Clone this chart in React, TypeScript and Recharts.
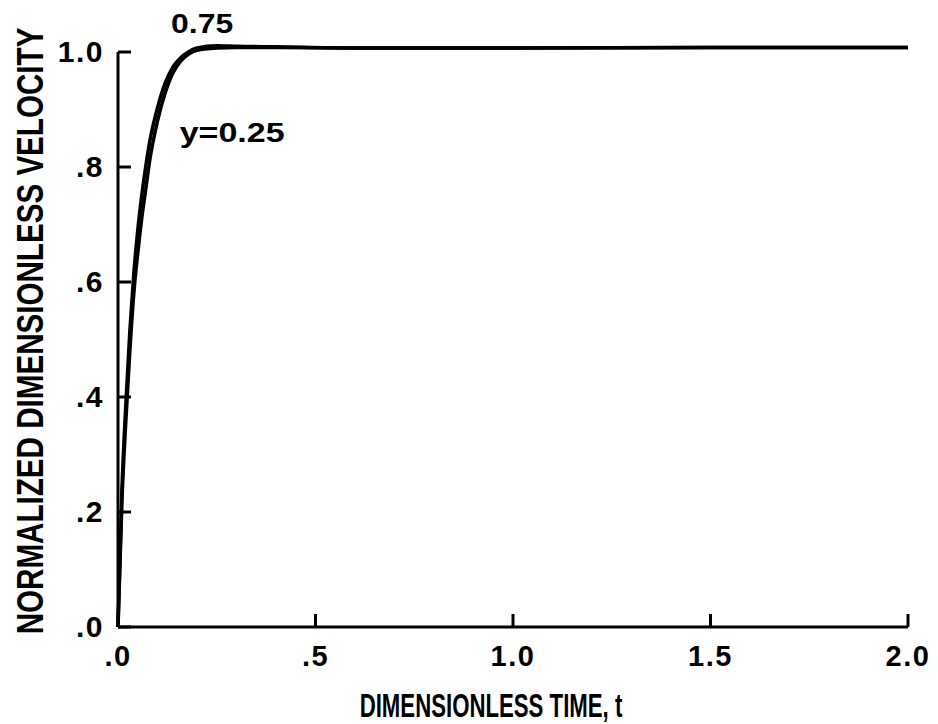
import { LineChart, Line, XAxis, YAxis, ReferenceLine, ReferenceDot } from "recharts"

// dimensionless time samples
const timeValues = [0, 0.01, 0.02, 0.03, 0.04, 0.05, 0.06, 0.07, 0.08, 0.1, 0.12, 0.14, 0.16, 0.18, 0.2, 0.25, 0.3, 0.4, 0.6, 1.0, 1.5, 2.0]
// normalized velocity at y = 0.25
const velocityY025 = [0, 0.22, 0.36, 0.48, 0.58, 0.65, 0.71, 0.76, 0.81, 0.88, 0.93, 0.965, 0.985, 0.997, 1.003, 1.007, 1.008, 1.008, 1.007, 1.007, 1.008, 1.008]
// normalized velocity at y = 0.75
const velocityY075 = [0, 0.24, 0.39, 0.515, 0.615, 0.69, 0.75, 0.8, 0.843, 0.903, 0.947, 0.975, 0.991, 1.001, 1.007, 1.011, 1.01, 1.009, 1.007, 1.007, 1.008, 1.008]

const xTicks = [0, 0.5, 1, 1.5, 2]
const xTickLabels = [".0", ".5", "1.0", "1.5", "2.0"]
const yTicks = [0, 0.2, 0.4, 0.6, 0.8, 1]
const yTickLabels = [".0", ".2", ".4", ".6", ".8", "1.0"]

const data = timeValues.map((t, i) => ({ t, low: velocityY025[i], high: velocityY075[i] }))

const FONT = "'Liberation Sans', Arial, Helvetica, sans-serif"
const INK = "#000"

function YTick({ x, y, payload }: any) {
  const label = yTickLabels[yTicks.indexOf(payload.value)]
  return (
    <g>
      <line x1={x} x2={x + 13} y1={y} y2={y} stroke={INK} strokeWidth={3} />
      <text x={x - 14} y={y + 10} textAnchor="end" fontFamily={FONT} fontWeight={700} fontSize={30} letterSpacing={1.5} fill={INK}>
        {label}
      </text>
    </g>
  )
}

function XTick({ x, y, payload }: any) {
  const label = xTickLabels[xTicks.indexOf(payload.value)]
  return (
    <g>
      <line x1={x} x2={x} y1={y} y2={y - 13} stroke={INK} strokeWidth={3} />
      <text x={x} y={y + 39} textAnchor="middle" fontFamily={FONT} fontWeight={700} fontSize={29} letterSpacing={1.5} fill={INK}>
        {label}
      </text>
    </g>
  )
}

function Note({ cx, cy, text, width }: any) {
  return (
    <text x={cx} y={cy} textAnchor="middle" fontFamily={FONT} fontWeight={700} fontSize={28} textLength={width} lengthAdjust="spacingAndGlyphs" fill={INK}>
      {text}
    </text>
  )
}

export default function App() {
  return (
    <div style={{ position: "absolute", left: 0, top: 0, width: 938, height: 724, background: "#fff" }}>
      <LineChart width={938} height={724} data={data} margin={{ top: 23.25, right: 30, bottom: 0, left: 0 }}>
        <XAxis
          dataKey="t"
          type="number"
          domain={[0, 2]}
          ticks={xTicks}
          height={97}
          tickSize={0}
          tickMargin={0}
          tickLine={false}
          axisLine={{ stroke: INK, strokeWidth: 3 }}
          tick={<XTick />}
          label={{
            content: ({ viewBox }: any) => (
              <text
                transform={`translate(${viewBox.x + viewBox.width / 2 - 22} ${viewBox.y + 90}) scale(0.653 1)`}
                x={0}
                y={0}
                textAnchor="middle"
                fontFamily={FONT}
                fontWeight={700}
                fontSize={34}
                fill={INK}
              >
                DIMENSIONLESS TIME, t
              </text>
            ),
          }}
        />
        <YAxis
          type="number"
          domain={[0, 1.05]}
          ticks={yTicks}
          width={118}
          tickSize={0}
          tickMargin={0}
          tickLine={false}
          axisLine={false}
          tick={<YTick />}
          label={{
            content: () => (
              <text
                x={0}
                y={0}
                transform="translate(43 331) rotate(-90) scale(0.8 1)"
                textAnchor="middle"
                fontFamily={FONT}
                fontWeight={700}
                fontSize={37}
                fill={INK}
              >
                NORMALIZED DIMENSIONLESS VELOCITY
              </text>
            ),
          }}
        />
        <ReferenceLine segment={[{ x: 0, y: 0 }, { x: 0, y: 1 }]} stroke={INK} strokeWidth={3} />
        <Line dataKey="low" type="monotone" stroke={INK} strokeWidth={3.5} dot={false} isAnimationActive={false} />
        <Line dataKey="high" type="monotone" stroke={INK} strokeWidth={3.5} dot={false} isAnimationActive={false} />
        <ReferenceDot x={0.213} y={1.033} r={0} ifOverflow="visible" shape={(p: any) => <Note {...p} text="0.75" width={62} />} />
        <ReferenceDot x={0.289} y={0.843} r={0} ifOverflow="visible" shape={(p: any) => <Note {...p} text="y=0.25" width={105} />} />
      </LineChart>
    </div>
  )
}
